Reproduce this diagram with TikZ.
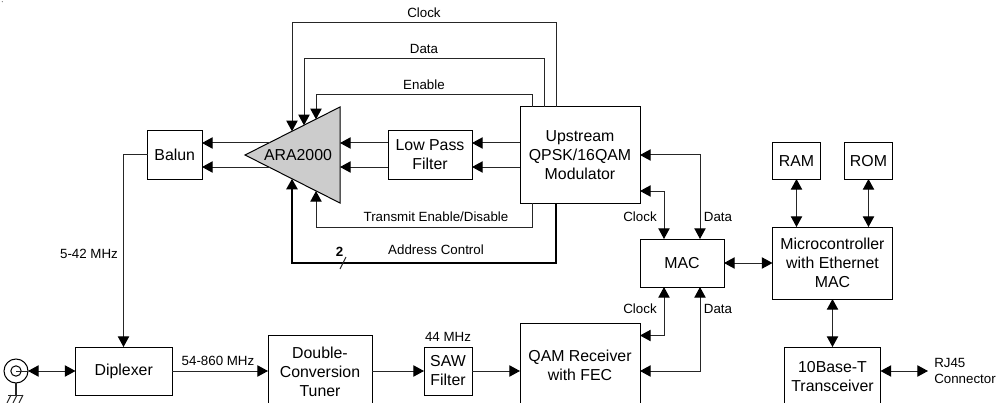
\documentclass[tikz,border=0pt]{standalone}
\usepackage{fontspec}
\setmainfont{Liberation Sans}
\usetikzlibrary{arrows.meta}
\tikzset{
  wire/.style={line width=0.75pt,draw=black!85},
  to/.style={wire,-{Triangle[length=8pt,width=8.5pt,color=black]}},
  both/.style={wire,{Triangle[length=8pt,width=8.5pt,color=black]}-{Triangle[length=8pt,width=8.5pt,color=black]}},
  blk/.style={draw=black,line width=0.75pt,inner sep=0pt,outer sep=0pt,align=center,font=\fontsize{11.9}{14.25}\selectfont},
  big/.style={inner sep=0pt,align=center,font=\fontsize{11.9}{14.25}\selectfont},
  lab/.style={inner sep=0pt,align=left,font=\fontsize{10}{12}\selectfont},
}
\newcommand\blk[6]{%
  \pgfmathsetmacro\cx{(#2+#4)/2}\pgfmathsetmacro\cy{(#3+#5)/2}%
  \pgfmathsetmacro\bw{(#4-#2)*.75}\pgfmathsetmacro\bh{(#5-#3)*.75}%
  \node[blk,minimum width=\bw pt,minimum height=\bh pt] (#1) at (\cx,\cy) {#6};}
\begin{document}
\begin{tikzpicture}[x=0.75pt,y=-0.75pt]
\useasboundingbox (0,0) rectangle (997,403);
\clip (0,0) rectangle (997,403);
\fill[black!60] (2.3,1.7) circle (0.6);
% rails
\foreach \n/\v in {xa/556,xb/544,xc/532,xd/292,xe/304,xf/316,xg/664,xh/700}{\coordinate (\n) at (\v,0);}
\foreach \n/\v in {ya/23,yb/59,yc/95,yd/227,ye/263,yf/143,yg/167,yh/155,yi/191,yj/335.5,yk/371}{\coordinate (\n) at (0,\v);}
% ARA2000 triangle
\coordinate (tip) at (245,155);
\coordinate (tt) at (340,107);
\coordinate (tb) at (340,203);
\draw[fill=black!20,line width=0.75pt] (tip) -- (tt) -- (tb) -- cycle;
\node[big] (ara) at (298,155.5) {ARA2000};
\coordinate (ta1) at (292,131.3);
\coordinate (ta2) at (304,125.3);
\coordinate (ta3) at (316,119.3);
\coordinate (ta4) at (316,191);
\coordinate (ta5) at (292,178.8);
\coordinate (tl1) at (269.5,143);
\coordinate (tl2) at (269.5,167);
% blocks
\blk{balun}{147.5}{131}{202}{179}{Balun}
\blk{lpf}{388}{131}{472}{179}{Low Pass\\Filter}
\blk{up}{520}{107}{640}{203}{Upstream\\QPSK/16QAM\\Modulator}
\blk{mac}{640}{239}{724}{287}{MAC}
\blk{ram}{772.5}{143}{820.5}{179}{RAM}
\blk{rom}{844.5}{143}{892.5}{179}{ROM}
\blk{mcu}{772.5}{227}{892.5}{299}{Microcontroller\\with Ethernet\\MAC}
\blk{dip}{75.5}{347}{172}{395}{Diplexer}
\blk{saw}{424}{347}{472}{395}{SAW\\Filter}
\blk{tun}{268}{335}{372}{430}{}
\blk{qam}{520}{323}{640}{430}{}
\blk{eth}{784.5}{347}{880.5}{430}{}
\node[big] (tunt) at (320,371.5) {Double-\\Conversion\\Tuner};
\node[big] (qamt) at (580,365.5) {QAM Receiver\\with FEC};
\node[big] (etht) at (832.5,377) {10Base-T\\Transceiver};
% top control lines
\draw[to] (up.north -| xa) |- (ya -| xd) -- (ta1);
\draw[to] (up.north -| xb) |- (yb -| xe) -- (ta2);
\draw[to] (up.north -| xc) |- (yc -| xf) -- (ta3);
\draw[to] (up.south -| xc) |- (yd -| xf) -- (ta4);
\draw[to,line width=1.5pt,draw=black] (up.south -| xa) |- (ye -| xd) -- (ta5);
% signal path
\draw[to] (lpf.west |- yf) -- (tt |- yf);
\draw[to] (lpf.west |- yg) -- (tt |- yg);
\draw[to] (up.west |- yf) -- (lpf.east |- yf);
\draw[to] (up.west |- yg) -- (lpf.east |- yg);
\draw[to] (tl1) -- (balun.east |- yf);
\draw[to] (tl2) -- (balun.east |- yg);
\coordinate (xb1) at (123.5,0);
\draw[to] (balun.west) -- (balun.west -| xb1) -- (dip.north -| xb1);
% antenna connector
\node[circle,draw,line width=0.75pt,minimum size=18pt,inner sep=0pt,outer sep=0pt] (ant) at (16,371) {};
\node[circle,draw,line width=0.75pt,minimum size=7.8pt,inner sep=0pt,outer sep=0pt] (anti) at (16,371) {};
\draw[both] (ant.east) -- (dip.west);
\draw[wire] (anti.center) -- (ant.east);
\coordinate (gnd) at (16,395);
\draw[wire,line width=1.1pt] (ant.south) -- (gnd);
\draw[wire] (8,395) -- (23,395);
\foreach \x in {11,17,23}{\draw[wire] (\x,395) -- (\x-4,403);}
% lower path
\draw[to] (dip.east) -- (tun.west |- dip.east);
\draw[to] (tun.east |- saw.west) -- (saw.west);
\draw[to] (saw.east) -- (qam.west |- saw.east);
% MAC links
\draw[both] (up.east |- yh) -| (mac.north -| xh);
\draw[both] (up.east |- yi) -| (mac.north -| xg);
\draw[both] (qam.east |- yj) -| (mac.south -| xg);
\draw[both] (qam.east |- yk) -| (mac.south -| xh);
\draw[both] (mac.east) -- (mcu.west |- mac.east);
\draw[both] (ram.south) -- (mcu.north -| ram.south);
\draw[both] (rom.south) -- (mcu.north -| rom.south);
\draw[both] (mcu.south) -- (eth.north);
\coordinate (rj) at (928,371);
\draw[both] (eth.east |- rj) -- (rj);
% labels
\node[lab] (l1) at (424,13) {Clock};
\node[lab] (l2) at (424,49) {Data};
\node[lab] (l3) at (424,85) {Enable};
\node[lab] (l4) at (436,217) {Transmit Enable/Disable};
\node[lab] (l5) at (436,250) {Address Control};
\node[lab] (l6) at (89,254) {5-42 MHz};
\node[lab] (l7) at (218,361) {54-860 MHz};
\node[lab] (l8) at (448,337) {44 MHz};
\node[lab] (l9) at (640,217) {Clock};
\node[lab] (l10) at (718,217) {Data};
\node[lab] (l11) at (640,309) {Clock};
\node[lab] (l12) at (718,309) {Data};
\node[lab,anchor=west] (l13) at (934,371) {RJ45\\Connector};
\node[lab,font=\fontsize{10}{12}\selectfont\bfseries] (two) at (339.5,252) {2};
\coordinate (s1) at (340,269);
\coordinate (s2) at (346,257);
\draw[wire] (s1) -- (s2);
\end{tikzpicture}
\end{document}
